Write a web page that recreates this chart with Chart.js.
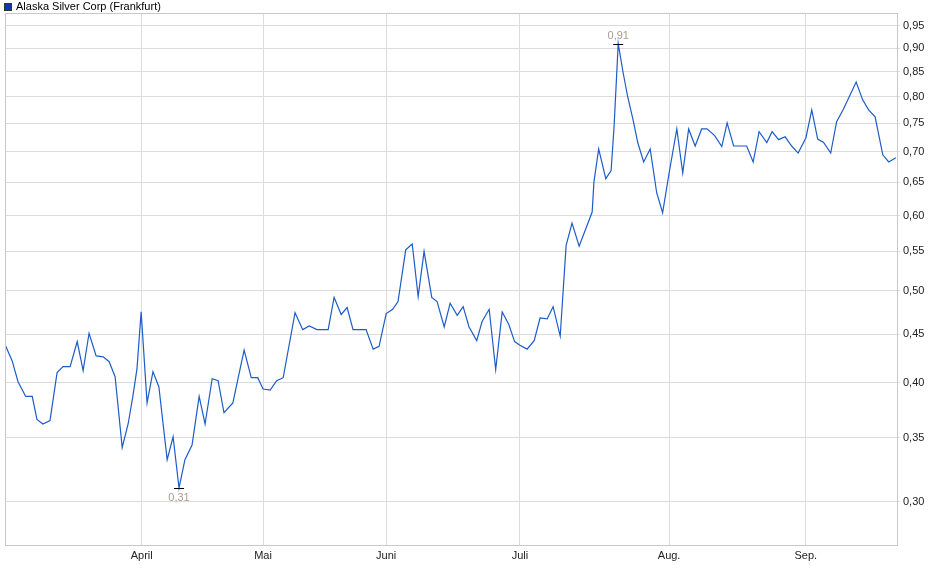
<!DOCTYPE html>
<html><head><meta charset="utf-8">
<script src="https://cdn.jsdelivr.net/npm/chart.js@4.4.1/dist/chart.umd.min.js"></script>
<style>html,body{margin:0;padding:0;background:#fff}#wrap{width:940px;height:579px}</style>
</head><body><div id="wrap"><canvas id="c"></canvas></div>
<script>
const seriesName = "Alaska Silver Corp (Frankfurt)";
// session index (trading session number) and closing price
const sessions = [0,1.2,2.2,3.5,4.6,5.4,6.4,7.6,8.8,9.8,11.0,12.2,13.2,14.2,15.4,16.6,17.6,18.6,19.8,20.8,21.6,22.3,23.0,24.0,25.0,26.0,27.4,28.4,29.4,30.4,31.6,32.8,33.8,35.0,36.0,37.0,38.5,39.4,40.4,41.6,42.7,43.6,44.8,45.9,47.0,49.0,50.3,51.4,52.7,54.6,55.6,56.8,57.8,58.8,61.0,62.2,63.2,64.4,65.5,66.4,67.7,68.8,69.8,70.8,72.1,73.0,74.2,75.2,76.4,77.4,78.4,79.7,80.6,81.8,82.9,84.0,85.1,86.1,87.0,88.2,89.4,90.4,91.6,92.6,93.8,94.8,95.8,97.0,99.2,99.5,100.3,101.5,102.4,102.9,103.6,104.4,105.2,106.1,106.9,107.9,109.0,110.1,111.1,112.2,113.5,114.5,115.5,116.6,117.7,118.6,119.9,121.1,122.0,123.1,125.3,126.4,127.4,128.7,129.6,130.7,131.8,132.9,134.0,135.3,136.3,137.3,138.3,139.5,140.5,141.6,143.8,144.9,145.9,147.0,148.3,149.3,150.5];
const prices = [0.439,0.422,0.401,0.387,0.387,0.366,0.362,0.365,0.410,0.416,0.416,0.442,0.412,0.451,0.427,0.426,0.421,0.406,0.342,0.362,0.387,0.414,0.475,0.381,0.411,0.396,0.332,0.351,0.310,0.332,0.344,0.387,0.362,0.404,0.402,0.372,0.381,0.405,0.433,0.405,0.405,0.394,0.393,0.402,0.405,0.474,0.455,0.459,0.455,0.455,0.492,0.472,0.480,0.455,0.455,0.434,0.437,0.473,0.478,0.487,0.552,0.560,0.493,0.550,0.492,0.487,0.458,0.485,0.471,0.481,0.458,0.443,0.464,0.478,0.413,0.475,0.461,0.442,0.438,0.434,0.443,0.468,0.467,0.481,0.448,0.558,0.589,0.557,0.605,0.651,0.705,0.656,0.669,0.744,0.910,0.850,0.800,0.757,0.716,0.683,0.705,0.634,0.604,0.665,0.740,0.665,0.740,0.710,0.740,0.740,0.728,0.709,0.751,0.710,0.710,0.683,0.735,0.716,0.735,0.721,0.726,0.710,0.698,0.724,0.775,0.722,0.716,0.698,0.753,0.775,0.829,0.794,0.775,0.762,0.695,0.683,0.690];
const monthTicks = [23.1,43.6,64.4,87.0,112.2,135.3];
const monthLabels = ["April","Mai","Juni","Juli","Aug.","Sep."];
const yTicks = [0.30,0.35,0.40,0.45,0.50,0.55,0.60,0.65,0.70,0.75,0.80,0.85,0.90,0.95];

const fmt = v => v.toFixed(2).replace('.', ',');
const points = sessions.map((s,i)=>({x:s,y:prices[i]}));

const extras = {
  id:'extras',
  afterDraw(chart){
    const {ctx, scales:{x,y}, chartArea:a} = chart;
    ctx.save();
    // legend
    ctx.fillStyle = '#0a3aa8'; ctx.fillRect(4,3,8,8);
    ctx.strokeStyle = '#333'; ctx.lineWidth=1; ctx.strokeRect(4.5,3.5,7,7);
    ctx.fillStyle = '#000'; ctx.font = '11px Arial, "Liberation Sans", sans-serif';
    ctx.textBaseline='middle'; ctx.textAlign='left';
    ctx.fillText(seriesName, 16, 7);
    // min / max markers
    let mi=0, ma=0;
    prices.forEach((p,i)=>{ if(p<prices[mi]) mi=i; if(p>prices[ma]) ma=i; });
    const mark = (i, below) => {
      const px = x.getPixelForValue(sessions[i]), py = y.getPixelForValue(prices[i]);
      ctx.strokeStyle='#000'; ctx.lineWidth=1;
      ctx.beginPath(); ctx.moveTo(px-5, Math.round(py)+0.5); ctx.lineTo(px+5, Math.round(py)+0.5); ctx.stroke();
      ctx.fillStyle='#a89c8c'; ctx.textAlign='center';
      ctx.textBaseline = below ? 'top' : 'bottom';
      ctx.fillText(fmt(prices[i]), px, below ? py+4 : py-2);
    };
    mark(mi, true); mark(ma, false);
    // frame
    ctx.strokeStyle='#c8c8c8'; ctx.lineWidth=1;
    ctx.strokeRect(a.left+0.5, a.top+0.5, a.right-a.left, a.bottom-a.top);
    ctx.restore();
  }
};

new Chart(document.getElementById('c'), {
  type:'line',
  data:{datasets:[{data:points, borderColor:'#1c5cc8', borderWidth:1.2, pointRadius:0, tension:0}]},
  options:{
    responsive:true, maintainAspectRatio:false, animation:false,
    layout:{padding:{top:13,left:5,right:0,bottom:0}},
    plugins:{legend:{display:false}, tooltip:{enabled:false}},
    scales:{
      x:{type:'linear', min:0, max:150.7,
        afterBuildTicks(s){ s.ticks = monthTicks.map(v=>({value:v})); },
        afterFit(s){ s.height = 34; },
        grid:{color:'#dcdcdc', drawTicks:false},
        border:{display:false},
        ticks:{autoSkip:false, maxRotation:0, padding:4, color:'#222', font:{size:11, family:'Arial, "Liberation Sans", sans-serif'},
          callback:(v)=>{ const i = monthTicks.indexOf(v); return i>=0 ? monthLabels[i] : ''; }}
      },
      y:{type:'logarithmic', position:'right', min:0.27, max:0.98,
        afterBuildTicks(s){ s.ticks = yTicks.map(v=>({value:v})); },
        afterFit(s){ s.width = 43; },
        grid:{color:'#dcdcdc', drawTicks:true, tickLength:3},
        border:{display:false},
        ticks:{padding:3, color:'#222', font:{size:11, family:'Arial, "Liberation Sans", sans-serif'},
          callback:(v)=>fmt(v)}
      }
    }
  },
  plugins:[extras]
});
</script></body></html>
